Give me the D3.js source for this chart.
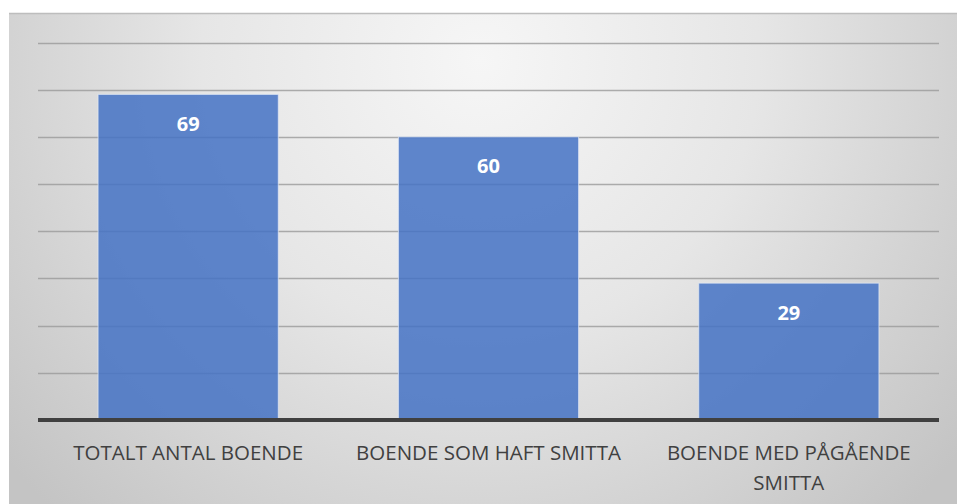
<!DOCTYPE html>
<html><head><meta charset="utf-8">
<script src="https://cdn.jsdelivr.net/npm/d3@7"></script>
<style>body{margin:0;background:#fff}svg{display:block}</style>
</head><body>
<script>
const categories = ["TOTALT ANTAL BOENDE", "BOENDE SOM HAFT SMITTA", "BOENDE MED PÅGÅENDE SMITTA"];
const values = [69, 60, 29];
const yTicks = [0, 10, 20, 30, 40, 50, 60, 70, 80];

const W = 957, H = 504;
const svg = d3.select("body").append("svg").attr("width", W).attr("height", H);
const defs = svg.append("defs");
const grad = defs.append("radialGradient").attr("id", "bg")
  .attr("gradientUnits", "userSpaceOnUse")
  .attr("cx", 480).attr("cy", 60).attr("r", 620).attr("fx", 480).attr("fy", 60);
grad.append("stop").attr("offset", "0%").attr("stop-color", "#f6f6f6");
grad.append("stop").attr("offset", "45%").attr("stop-color", "#e6e6e6");
grad.append("stop").attr("offset", "100%").attr("stop-color", "#c4c4c4");

svg.append("rect").attr("x", 9).attr("y", 13).attr("width", W - 9).attr("height", H - 13)
  .attr("fill", "url(#bg)");
svg.append("line").attr("x1", 9).attr("x2", W).attr("y1", 13.5).attr("y2", 13.5)
  .attr("stroke", "#bdbdbd").attr("stroke-width", 1.5);

const x = d3.scaleBand().domain(categories).range([38, 939]).paddingInner(0.4).paddingOuter(0.2);
const y = d3.scaleLinear().domain([0, 80]).range([420, 42.5]);

// gridlines
svg.append("g").selectAll("line").data(yTicks.filter(d => d > 0)).join("line")
  .attr("x1", 38).attr("x2", 939)
  .attr("y1", d => Math.round(y(d)) + 0.5).attr("y2", d => Math.round(y(d)) + 0.5)
  .attr("stroke", "#9a9a9a").attr("stroke-width", 1.5).attr("stroke-opacity", 0.8);

// bars
svg.append("g").selectAll("rect").data(values).join("rect")
  .attr("x", (d, i) => x(categories[i]))
  .attr("y", d => y(d))
  .attr("width", x.bandwidth())
  .attr("height", d => y(0) - y(d))
  .attr("fill", "#4472C4").attr("fill-opacity", 0.85)
  .attr("stroke", "#e4ebf7").attr("stroke-opacity", 0.7).attr("stroke-width", 1);

// axis line
svg.append("line").attr("x1", 38).attr("x2", 939).attr("y1", 420).attr("y2", 420)
  .attr("stroke", "#404040").attr("stroke-width", 4);

// value labels
svg.append("g").selectAll("text").data(values).join("text")
  .attr("x", (d, i) => x(categories[i]) + x.bandwidth() / 2)
  .attr("y", d => y(d) + 36.5)
  .attr("text-anchor", "middle")
  .attr("font-family", "Open Sans, sans-serif").attr("font-weight", "bold")
  .attr("font-size", 20).attr("fill", "#ffffff")
  .text(d => d);

// category labels (wrapped)
const maxW = 290;
const lab = svg.append("g").attr("font-family", "Open Sans, sans-serif")
  .attr("font-size", 20.5).attr("fill", "#404040");
categories.forEach((c, i) => {
  const cx = x(c) + x.bandwidth() / 2;
  const t = lab.append("text").attr("text-anchor", "middle").attr("x", cx).attr("y", 459.5);
  const words = c.split(" ");
  let line = [];
  let ts = t.append("tspan").attr("x", cx).attr("dy", 0);
  words.forEach(w => {
    line.push(w);
    ts.text(line.join(" "));
    if (ts.node().getComputedTextLength() > maxW && line.length > 1) {
      line.pop(); ts.text(line.join(" "));
      line = [w];
      ts = t.append("tspan").attr("x", cx).attr("dy", 30).text(w);
    }
  });
});
</script>
</body></html>
